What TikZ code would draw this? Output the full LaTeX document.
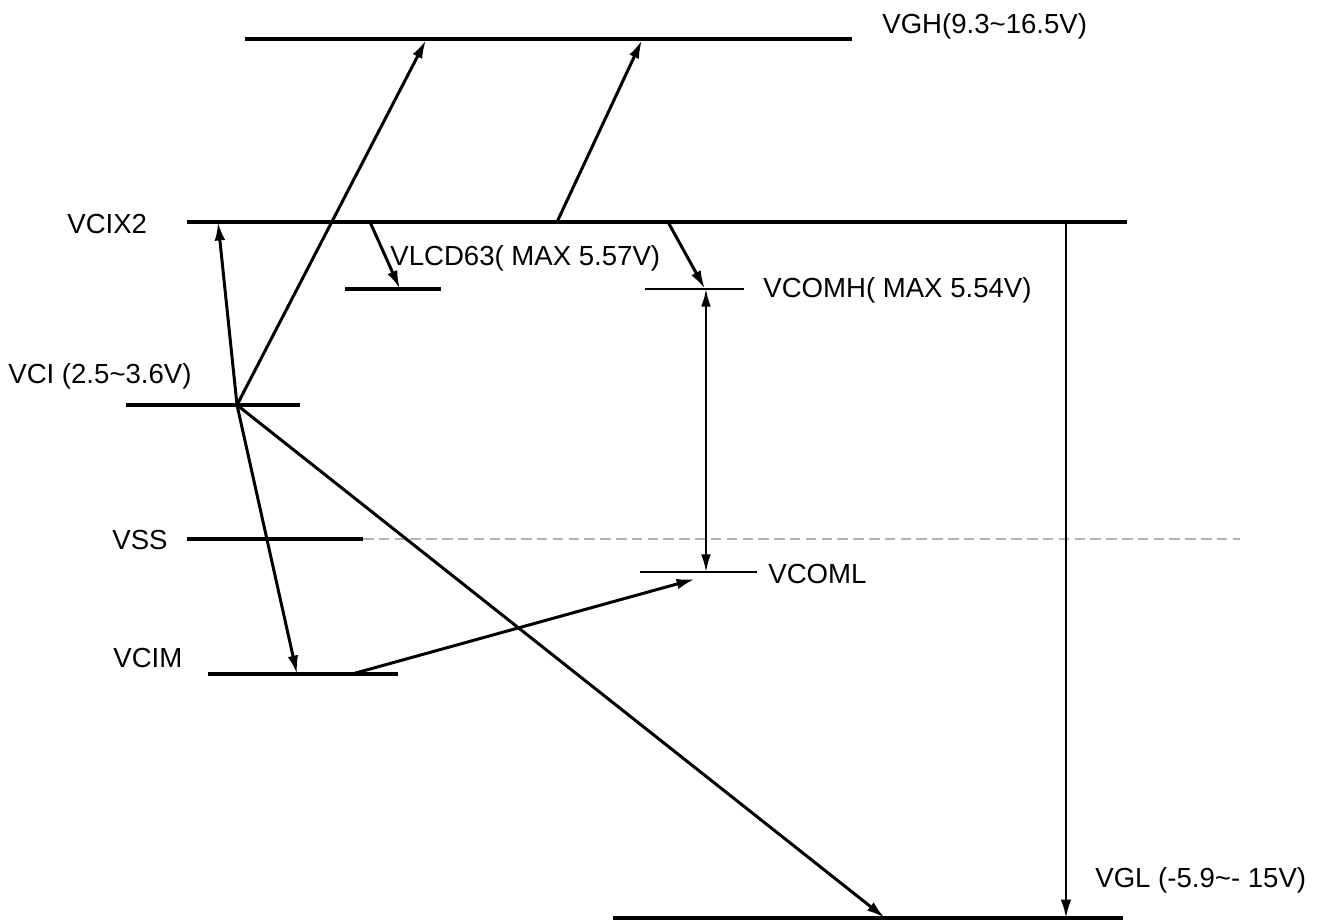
\documentclass[tikz,border=0pt]{standalone}
\usepackage{fontspec}
\setmainfont{Liberation Sans}
\usetikzlibrary{arrows.meta}

\begin{document}
\begin{tikzpicture}[x=0.02cm, y=-0.02cm,
    level/.style={line width=2.2pt},
    thinlevel/.style={line width=1.1pt},
    arr/.style={-{Latex[length=10.5pt, width=6pt]}, line width=1.7pt},
    thinarr/.style={{Latex[length=10pt, width=5.5pt]}-{Latex[length=10pt, width=5.5pt]}, line width=1.1pt},
    lbl/.style={anchor=base west, inner sep=0pt, font=\fontsize{15.7}{18}\selectfont}]
    \useasboundingbox (0,0) rectangle (1321,923);

    % voltage levels
    \draw[level] (245,39) -- (852,39);      % VGH
    \draw[level] (187,222) -- (1127,222);   % VCIX2
    \draw[level] (345,289) -- (441,289);    % VLCD63
    \draw[thinlevel] (645,289) -- (744,289);% VCOMH
    \draw[level] (126,405) -- (300,405);    % VCI
    \draw[level] (187,539) -- (363,539);    % VSS
    \draw[gray!60, line width=1pt, dash pattern=on 6pt off 3pt] (363,539) -- (1240,539);
    \draw[thinlevel] (640,572) -- (757,572);% VCOML
    \draw[level] (208,674) -- (398,674);    % VCIM
    \draw[level] (613,918) -- (1123,918);   % VGL

    % labels
    \node[lbl] (lvgh) at (882,33) {VGH(9.3\char`~16.5V)};
    \node[lbl] (lvcix) at (67,233) {VCIX2};
    \node[lbl] (lvlcd) at (390,265) {VLCD63( MAX 5.57V)};
    \node[lbl] (lvcomh) at (763,297) {VCOMH( MAX 5.54V)};
    \node[lbl] (lvci) at (8,383) {VCI (2.5\char`~3.6V)};
    \node[lbl] (lvss) at (112,549) {VSS};
    \node[lbl] (lvcoml) at (768,583) {VCOML};
    \node[lbl] (lvcim) at (113,667) {VCIM};
    \node[lbl] (lvgl) at (1095,887) {VGL (-5.9\char`~- 15V)};

    % end points of the connectors
    \coordinate (vci) at (237,405);
    \coordinate (vgha) at (426,40);
    \coordinate (vcixa) at (557,222);
    \coordinate (vghb) at (642,40);
    \coordinate (vcixb) at (218,222);
    \coordinate (vcixc) at (370,222);
    \coordinate (vlcd) at (400,289);
    \coordinate (vcixd) at (668,222);
    \coordinate (vcomh) at (705,289);
    \coordinate (vcomhb) at (706,289);
    \coordinate (vcoml) at (706,572);
    \coordinate (vcim) at (297,674);
    \coordinate (vcimb) at (352,674);
    \coordinate (vcomlb) at (695,579);
    \coordinate (vgla) at (885,918);
    \coordinate (vcixe) at (1066,222);
    \coordinate (vglb) at (1066,918);

    \draw[arr] (vci) -- (vgha);
    \draw[arr] (vcixa) -- (vghb);
    \draw[arr] (vci) -- (vcixb);
    \draw[arr] (vcixc) -- (vlcd);
    \draw[arr] (vcixd) -- (vcomh);
    \draw[thinarr] (vcoml) -- (vcomhb);
    \draw[arr] (vci) -- (vcim);
    \draw[arr] (vcimb) -- (vcomlb);
    \draw[arr] (vci) -- (vgla);
    \draw[arr, line width=1.3pt] (vcixe) -- (vglb);
\end{tikzpicture}
\end{document}
